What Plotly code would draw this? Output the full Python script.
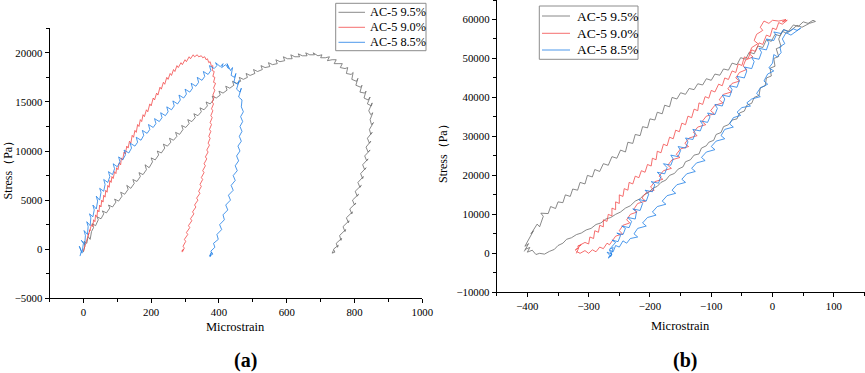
import plotly.graph_objects as go

# ---------------- Panel (a) data: (microstrain, stress Pa) ----------------
a_95 = [(0,-300),(4,300),(2,800),(10,600),(14,1300),(20,1000),(24,1800),(30,2200),(26,2600),(36,2400),(44,3000),(40,3300),(52,3100),(60,3600),(56,3900),(68,3700),(78,4200),(74,4500),(86,4300),(96,4800),(92,5100),(104,4900),(114,5400),(110,5800),(122,5600),(132,6100),(128,6500),(140,6200),(150,6700),(146,7100),(158,6900),(168,7400),(164,7800),(176,7600),(186,8100),(182,8600),(194,8300),(204,8900),(200,9300),(212,9100),(222,9600),(218,10000),(230,9800),(240,10300),(236,10700),(248,10500),(258,10900),(254,11300),(266,11100),(276,11500),(272,11900),(284,11700),(294,12200),(290,12600),(302,12400),(312,12800),(308,13200),(320,13000),(330,13400),(326,13800),(338,13600),(348,14000),(344,14400),(356,14200),(366,14600),(362,15000),(374,14800),(384,15200),(380,15600),(392,15400),(404,15700),(400,16100),(412,15900),(424,16200),(420,16600),(432,16400),(444,16700),(440,17100),(452,16900),(464,17100),(460,17500),(472,17300),(484,17500),(480,17900),(492,17700),(506,17900),(502,18300),(514,18100),(528,18300),(524,18700),(536,18500),(550,18600),(546,19000),(558,18800),(572,18900),(568,19300),(580,19100),(594,19200),(590,19600),(602,19400),(616,19400),(612,19800),(624,19600),(638,19600),(634,19900),(646,19700),(660,19700),(656,20000),(668,19800),(682,19800),(678,20000),(692,19700),(704,19800),(700,19500),(714,19500),(726,19600),(720,19200),(734,19300),(746,19300),(740,18900),(754,18900),(764,18900),(758,18500),(772,18400),(780,18500),(776,17900),(790,17800),(796,18000),(792,17300),(806,17100),(810,17400),(804,16700),(818,16500),(822,16700),(816,16000),(830,15900),(834,16100),(828,15400),(840,15200),(846,15500),(838,14800),(850,14600),(852,14900),(842,14100),(848,13700),(854,13900),(846,13200),(850,12700),(856,12900),(844,12200),(848,11700),(852,11900),(838,11300),(844,10800),(848,11000),(834,10400),(840,9900),(846,10100),(830,9500),(836,9000),(840,9200),(824,8600),(830,8100),(834,8300),(818,7700),(824,7200),(826,7400),(810,6800),(816,6300),(820,6500),(802,5900),(808,5400),(812,5600),(794,5000),(800,4500),(804,4700),(786,4100),(792,3600),(794,3800),(776,3200),(782,2700),(784,2900),(766,2300),(772,1800),(774,2000),(756,1400),(760,900),(762,1100),(746,600),(750,200),(752,400),(738,0),(742,-300),(734,-400),(738,-100)]

a_90 = [(0,-200),(4,300),(2,100),(8,700),(6,500),(12,1200),(10,900),(16,1600),(14,1400),(20,2000),(18,1800),(24,2500),(28,2300),(30,3000),(34,2800),(36,3500),(40,3300),(42,4000),(46,3800),(48,4500),(52,4300),(54,5000),(58,4800),(60,5500),(64,5300),(66,6000),(70,5800),(72,6500),(76,6300),(78,7000),(82,6800),(84,7400),(88,7200),(92,7900),(96,7700),(98,8300),(102,8100),(106,8800),(110,8600),(112,9300),(116,9100),(120,9900),(124,9700),(128,10500),(132,10300),(136,11000),(140,10800),(144,11600),(148,11400),(152,12100),(156,11900),(160,12700),(164,12500),(168,13200),(172,13000),(176,13700),(180,13500),(186,14200),(190,14000),(196,14800),(200,14600),(206,15400),(210,15200),(216,15900),(220,15700),(226,16500),(230,16300),(236,17000),(240,16800),(246,17500),(250,17300),(256,17900),(260,17700),(266,18300),(270,18100),(276,18700),(280,18500),(288,19000),(292,18800),(300,19300),(304,19100),(312,19600),(316,19400),(324,19800),(328,19600),(336,19800),(340,19600),(348,19700),(352,19500),(358,19600),(362,19300),(366,19400),(370,19000),(374,19100),(378,18600),(382,18700),(380,18200),(386,18100),(382,17600),(388,17500),(384,17000),(390,16900),(384,16400),(388,16200),(382,15700),(386,15500),(380,15000),(384,14800),(378,14300),(382,14100),(376,13600),(380,13400),(374,12900),(378,12700),(372,12200),(376,12000),(370,11500),(374,11300),(368,10800),(372,10600),(364,10100),(368,9900),(360,9400),(364,9200),(356,8700),(360,8500),(352,8000),(356,7800),(348,7300),(352,7100),(344,6600),(348,6400),(340,5900),(344,5700),(334,5200),(338,5000),(328,4500),(332,4300),(322,3800),(326,3600),(316,3100),(320,2900),(310,2400),(314,2200),(304,1700),(308,1500),(298,1000),(302,800),(294,300),(298,100),(290,-200),(296,0),(292,-300)]

a_85 = [(-10,-700),(-6,-200),(-12,300),(-4,-400),(0,600),(-6,900),(4,500),(6,1400),(2,1900),(12,1500),(14,2300),(10,2800),(20,2400),(22,3200),(18,3600),(28,3300),(32,4000),(28,4500),(38,4100),(42,4900),(38,5400),(48,5000),(52,5800),(48,6200),(60,5900),(64,6600),(60,7100),(72,6800),(78,7400),(74,7900),(86,7600),(92,8200),(88,8700),(100,8400),(108,8900),(104,9400),(116,9100),(124,9600),(120,10100),(134,9800),(142,10300),(138,10800),(152,10500),(160,10900),(156,11400),(170,11100),(178,11600),(174,12100),(188,11800),(196,12200),(192,12700),(206,12400),(214,12800),(210,13300),(224,13000),(232,13400),(228,13900),(242,13600),(250,14000),(246,14500),(260,14200),(268,14600),(264,15100),(278,14800),(286,15200),(282,15700),(296,15400),(304,15800),(300,16300),(314,16000),(322,16400),(318,16900),(332,16600),(340,17000),(336,17500),(350,17200),(358,17600),(354,18100),(368,17800),(376,18200),(372,18700),(386,18400),(394,18700),(390,19000),(404,18600),(412,18900),(408,18500),(420,18800),(428,18400),(424,18900),(434,18200),(440,18500),(436,17700),(446,17500),(450,17900),(444,17000),(456,16800),(460,17200),(452,16300),(462,16000),(466,16400),(458,15500),(468,15200),(466,14500),(472,14000),(464,13500),(470,13000),(462,12500),(468,12000),(460,11500),(466,11000),(456,10500),(462,10000),(452,9500),(458,9000),(448,8500),(454,8000),(442,7500),(448,7000),(436,6500),(442,6000),(428,5500),(434,5000),(420,4500),(426,4000),(412,3500),(416,3000),(402,2500),(408,2000),(394,1500),(398,1000),(384,600),(388,200),(376,-200),(382,-500),(372,-700),(378,-300),(374,-800)]

# ---------------- Panel (b) data ----------------
b_95_up = [(-405,500),(-398,2500),(-404,1800),(-396,4000),(-400,3200),(-390,5800),(-394,5000),(-384,7500),(-380,6800),(-374,9500),(-378,10300),(-366,10200),(-362,12000),(-354,11500),(-350,13200),(-342,13000),(-338,15000),(-330,14600),(-326,16500),(-318,16200),(-314,18200),(-306,17800),(-302,20000),(-294,19600),(-290,21500),(-282,21000),(-276,23000),(-268,22600),(-262,24800),(-254,24400),(-248,26500),(-240,26000),(-236,28500),(-228,28200),(-224,30500),(-216,30200),(-212,32500),(-204,32200),(-200,34500),(-192,34200),(-188,36200),(-180,35800),(-176,38000),(-168,37600),(-164,40000),(-156,39600),(-150,41200),(-142,40800),(-136,42300),(-128,42000),(-122,43500),(-114,43200),(-108,44800),(-100,44400),(-94,46000),(-86,45700),(-80,47300),(-72,47000),(-66,48800),(-58,48400),(-52,50200),(-44,49800),(-38,51600),(-30,51200),(-24,53200),(-16,52800),(-10,54800),(-2,54400),(4,56200),(12,55800),(18,57400),(26,57000),(34,58600),(42,58200),(50,59400),(58,59000),(66,59800),(70,59500)]
b_95_down = [(60,59000),(48,58000),(40,58500),(30,57200),(22,56500),(16,57000),(10,55000),(14,53000),(6,52500),(10,50500),(2,50000),(4,48000),(-4,47500),(-2,45500),(-10,45000),(-12,43000),(-20,42500),(-22,40500),(-30,40000),(-34,38500),(-42,38000),(-46,36500),(-54,36000),(-58,34500),(-66,34200),(-72,33000),(-80,32500),(-84,31000),(-92,30500),(-96,29000),(-104,28500),(-108,27600),(-116,27000),(-120,25500),(-128,25200),(-134,24000),(-142,23500),(-146,22200),(-154,21600),(-160,20500),(-168,20000),(-174,18800),(-182,18200),(-188,17200),(-196,16600),(-202,15600),(-210,15000),(-216,14000),(-224,13400),(-232,12200),(-240,11600),(-248,10600),(-256,10000),(-264,9200),(-272,8800),(-280,7800),(-288,7400),(-296,6400),(-304,6000),(-312,5200),(-320,4800),(-328,4000),(-336,3600),(-342,2600),(-350,2000),(-356,1000),(-364,500),(-372,-200),(-380,0),(-386,-300),(-392,800),(-400,300),(-396,1500),(-404,1000)]

b_90_up = [(-320,0),(-316,1500),(-322,800),(-312,2200),(-318,1800),(-306,2800),(-300,2400),(-298,4200),(-292,3800),(-290,5800),(-284,5400),(-282,7200),(-276,6800),(-276,8600),(-270,8200),(-268,10000),(-262,9600),(-262,11600),(-256,11200),(-256,13200),(-250,12800),(-250,15000),(-244,14600),(-242,16600),(-236,16200),(-234,18200),(-228,17800),(-224,19800),(-218,19400),(-214,21200),(-208,20800),(-204,22800),(-198,22400),(-196,24400),(-190,24000),(-188,26200),(-182,25800),(-178,28000),(-172,27600),(-168,29800),(-162,29400),(-158,31600),(-152,31200),(-148,33400),(-142,33000),(-138,35200),(-132,34800),(-128,37000),(-122,36600),(-120,38600),(-114,38200),(-110,40200),(-104,39800),(-100,41800),(-94,41400),(-88,43400),(-82,43000),(-78,45000),(-72,44600),(-66,46800),(-60,46400),(-56,48600),(-50,48200),(-46,50400),(-40,50000),(-34,52200),(-28,51800),(-22,54000),(-16,53600),(-10,56000),(-4,55600),(0,57800),(6,57400),(10,59200),(16,58800),(24,59800),(16,59400),(22,60000),(10,59600)]
b_90_down = [(0,59800),(-6,59000),(-14,59600),(-20,58000),(-16,57200),(-26,56200),(-30,54600),(-24,53800),(-34,52800),(-38,51200),(-32,50400),(-44,49600),(-48,48000),(-42,47200),(-54,46400),(-60,45000),(-54,44200),(-66,43600),(-73,42200),(-67,41400),(-80,40800),(-87,39400),(-81,38600),(-94,38000),(-101,36600),(-95,35800),(-108,35200),(-115,33800),(-109,33000),(-122,32400),(-129,31000),(-123,30200),(-136,29600),(-143,28200),(-137,27400),(-150,26800),(-157,25400),(-151,24600),(-164,24000),(-171,22600),(-165,21800),(-178,21200),(-185,19800),(-179,19000),(-192,18400),(-199,17000),(-193,16200),(-206,15600),(-213,14200),(-207,13400),(-220,12800),(-226,11400),(-221,10600),(-232,10000),(-238,8600),(-233,7800),(-244,7200),(-250,5800),(-245,5000),(-256,4400),(-262,3000),(-266,2200),(-270,2600),(-276,1200),(-282,1600),(-288,400),(-294,900),(-300,0),(-306,700),(-314,0),(-320,500)]

b_85_up = [(-268,-1000),(-262,-200),(-270,300),(-264,-800),(-260,1500),(-266,1000),(-256,2800),(-262,3400),(-252,3000),(-248,4600),(-254,5200),(-244,4800),(-240,6400),(-246,7000),(-234,6600),(-230,8200),(-236,9200),(-224,8800),(-222,10600),(-228,11400),(-216,11000),(-212,12800),(-218,13800),(-206,13400),(-202,15200),(-208,16200),(-196,15800),(-192,17600),(-198,18400),(-186,18000),(-182,19800),(-188,20800),(-176,20400),(-172,22000),(-178,23000),(-166,22600),(-162,24200),(-166,25200),(-154,24800),(-150,26400),(-154,27400),(-142,27000),(-138,28600),(-142,29600),(-130,29200),(-126,30800),(-130,31800),(-118,31400),(-114,33000),(-118,34000),(-106,33600),(-102,35000),(-106,36000),(-94,35600),(-90,37200),(-94,38200),(-82,37800),(-78,39600),(-82,40600),(-70,40200),(-66,42000),(-70,43000),(-58,42600),(-54,44400),(-58,45400),(-46,45000),(-42,46800),(-46,47800),(-34,47400),(-30,49200),(-34,50200),(-22,49800),(-18,51600),(-22,52600),(-10,52200),(-6,54000),(-10,55000),(2,54600),(6,56000),(2,56800),(14,56400),(18,57400),(26,56800),(34,57600),(40,57200),(46,57800)]
b_85_down = [(40,57000),(30,56000),(22,56600),(16,55000),(20,53800),(12,53000),(14,51500),(8,50400),(2,51000),(0,48800),(-6,47600),(2,46800),(-8,46000),(-14,44200),(-8,43400),(-20,42400),(-26,41000),(-20,40200),(-34,39600),(-42,38600),(-36,37800),(-50,37400),(-58,36200),(-52,35400),(-64,34800),(-70,33200),(-64,32400),(-78,31800),(-84,30200),(-78,29400),(-92,28800),(-100,27400),(-94,26600),(-108,26000),(-116,24600),(-110,23800),(-124,23200),(-132,21800),(-126,21000),(-140,20400),(-148,19000),(-142,18200),(-156,17600),(-164,16200),(-158,15400),(-172,14800),(-180,13400),(-174,12600),(-188,12000),(-196,10600),(-190,9800),(-204,9200),(-212,7800),(-206,7000),(-220,6400),(-226,5000),(-220,4200),(-232,3800),(-238,2600),(-244,3200),(-250,1600),(-256,2000),(-260,400),(-266,800),(-262,-400),(-268,-1200),(-264,-600)]

series_names = ["AC-5 9.5%", "AC-5 9.0%", "AC-5 8.5%"]
colors = ["#6b6b6b", "#f24a4a", "#1f7fe6"]

FONT = "Liberation Serif, Times New Roman, serif"
W, H = 865, 373

def px(x):
    return x / W

def py(y):
    return 1 - y / H

fig = go.Figure()

panel_a = [a_95, a_90, a_85]
panel_b = [b_95_up + b_95_down, b_90_up + b_90_down, b_85_up + b_85_down]

for name, col, pts in zip(series_names, colors, panel_a):
    fig.add_trace(go.Scatter(x=[p[0] for p in pts], y=[p[1] for p in pts], mode="lines",
                             name=name, line=dict(color=col, width=0.8),
                             xaxis="x", yaxis="y", showlegend=False))
for name, col, pts in zip(series_names, colors, panel_b):
    fig.add_trace(go.Scatter(x=[p[0] for p in pts], y=[p[1] for p in pts], mode="lines",
                             name=name, line=dict(color=col, width=0.8),
                             xaxis="x2", yaxis="y2", showlegend=False))

def ax(rng, dtick, mdtick, domain, anchor):
    return dict(range=rng, dtick=dtick, tick0=0, domain=domain, anchor=anchor,
                automargin=False, tickformat="d",
                showline=True, linecolor="black", linewidth=1, showgrid=False, zeroline=False,
                ticks="outside", ticklen=4, tickwidth=1, tickcolor="black",
                tickfont=dict(family=FONT, size=10.8, color="black"),
                minor=dict(ticks="outside", ticklen=2.5, dtick=mdtick, tickcolor="black", showgrid=False))

shapes = []
annotations = []

# Legend boxes drawn as layout decorations (box, sample lines, labels)
legend_specs = [
    (335.7, 426.0, 3.3, 50.7, 338.5, 365.0, 368.0, [12.3, 27.3, 42.3], 12.3),
    (539.3, 638.0, 6.0, 59.3, 542.0, 570.0, 574.5, [16.0, 33.3, 50.0], 13.5),
]
for bx0, bx1, by0, by1, lx0, lx1, tx, rows, fs in legend_specs:
    shapes.append(dict(type="rect", xref="paper", yref="paper", x0=px(bx0), x1=px(bx1),
                       y0=py(by1), y1=py(by0), line=dict(color="#8c8c8c", width=1),
                       fillcolor="white", layer="above"))
    for name, col, ry in zip(series_names, colors, rows):
        shapes.append(dict(type="line", xref="paper", yref="paper", x0=px(lx0), x1=px(lx1),
                           y0=py(ry), y1=py(ry), line=dict(color=col, width=0.8), layer="above"))
        annotations.append(dict(text=name, x=px(tx), y=py(ry), xref="paper", yref="paper",
                                xanchor="left", yanchor="middle", showarrow=False,
                                font=dict(family=FONT, size=fs, color="black")))

def label(text, x, y, size, angle=0):
    return dict(text=text, x=px(x), y=py(y), xref="paper", yref="paper", showarrow=False,
                xanchor="center", yanchor="middle", textangle=angle,
                font=dict(family=FONT, size=size, color="black"))

annotations += [
    label("Microstrain", 235.7, 326.7, 12.5),
    label("Microstrain", 680, 326.2, 12.5),
    label("Stress（Pa）", 7.5, 167, 12, -90),
    label("Stress（Pa）", 443.5, 150.5, 12, -90),
    label("<b>(a)</b>", 245, 360, 20),
    label("<b>(b)</b>", 685, 360, 20),
]

fig.update_layout(
    template="none",
    width=W, height=H,
    margin=dict(l=0, r=0, t=0, b=0, pad=0, autoexpand=False),
    paper_bgcolor="white", plot_bgcolor="white",
    showlegend=False,
    font=dict(family=FONT, color="black"),
    xaxis=ax([-100, 1000], 200, 100, [px(49.5), px(422.3)], "y"),
    yaxis=ax([-5000, 22500], 5000, 2500, [py(298.3), py(28.3)], "x"),
    xaxis2=ax([-450, 150], 100, 50, [px(496.7), px(864.5)], "y2"),
    yaxis2=ax([-10000, 65000], 10000, 5000, [py(292.3), 1.0], "x2"),
    shapes=shapes,
    annotations=annotations,
)

fig.write_html("out.html", config={"displayModeBar": False},
               post_script="document.body.style.margin='0px';document.body.style.overflow='hidden';")
